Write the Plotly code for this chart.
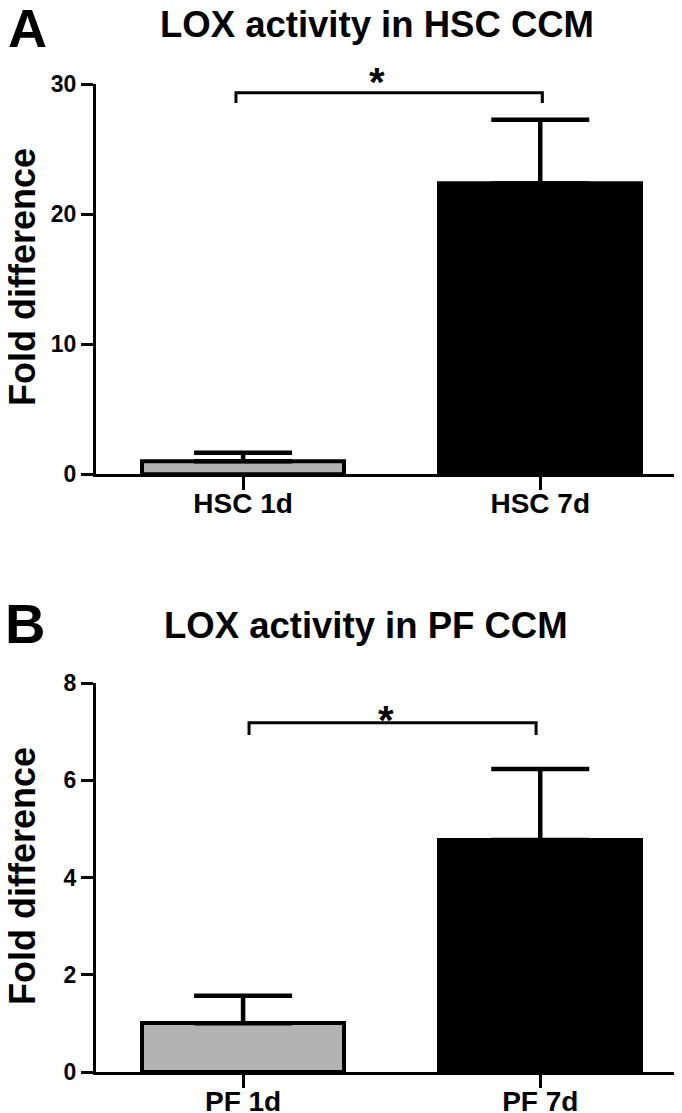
import plotly.graph_objects as go

# ---- data ----
hsc_categories = ["HSC 1d", "HSC 7d"]
hsc_means = [1.0, 22.36]
hsc_sem = [0.66, 4.92]

pf_categories = ["PF 1d", "PF 7d"]
pf_means = [1.0, 4.77]
pf_sem = [0.57, 1.46]

bar_colors = ["#b3b3b3", "#000000"]

hsc_ticks = [0, 10, 20, 30]
pf_ticks = [0, 2, 4, 6, 8]

# significance brackets: [x_left, x_right, y_line, y_tick_end]
hsc_bracket = [-0.024, 1.007, 29.35, 28.56]
pf_bracket = [0.02, 0.986, 7.18, 6.93]

FONT = "Liberation Sans, Arial, Helvetica, sans-serif"

# page body has an 8px default margin: lay out in page pixels, shifted by OFF
OFF = 8
W = 682 - OFF
H = 1113 - OFF


def px(x):
    return (x - OFF) / W


def py(y):
    return 1 - (y - OFF) / H


fig = go.Figure()


def add_panel(cats, means, sem, xa, ya):
    fig.add_trace(go.Bar(
        x=list(range(len(cats))), y=means,
        marker=dict(color=bar_colors, line=dict(color="black", width=4)),
        width=0.68,
        error_y=dict(type="data", symmetric=False, array=sem,
                     arrayminus=[0] * len(sem), color="black",
                     thickness=4.5, width=49),
        xaxis=xa, yaxis=ya, showlegend=False, cliponaxis=False,
    ))


add_panel(hsc_categories, hsc_means, hsc_sem, "x", "y")
add_panel(pf_categories, pf_means, pf_sem, "x2", "y2")

xdom = [px(96), 1.0]
ydomA = [py(474.3), py(84.3)]
ydomB = [py(1072), py(683)]

xcommon = dict(range=[-0.495, 1.477], showline=True, linecolor="black",
               linewidth=3, ticks="outside", ticklen=13, tickwidth=3,
               tickcolor="black", showgrid=False, zeroline=False,
               tickfont=dict(family=FONT, size=28, color="black", weight="bold"),
               tickmode="array", tickvals=[0, 1], fixedrange=True,
               automargin=False, ticklabelstandoff=-11)
ycommon = dict(showline=True, linecolor="black", linewidth=3,
               ticks="outside", ticklen=12, tickwidth=3, tickcolor="black",
               showgrid=False, zeroline=False,
               tickfont=dict(family=FONT, size=23, color="black", weight="bold"),
               tickmode="array", fixedrange=True, automargin=False)

fig.update_layout(
    width=W, height=H,
    margin=dict(l=0, r=0, t=0, b=0, autoexpand=False),
    paper_bgcolor="white", plot_bgcolor="white",
    xaxis=dict(domain=xdom, anchor="y", ticktext=hsc_categories, **xcommon),
    yaxis=dict(domain=ydomA, anchor="x", range=[0, 30], tickvals=hsc_ticks, **ycommon),
    xaxis2=dict(domain=xdom, anchor="y2", ticktext=pf_categories, **xcommon),
    yaxis2=dict(domain=ydomB, anchor="x2", range=[0, 8], tickvals=pf_ticks, **ycommon),
    bargap=0,
)

# brackets
for br, xr, yr in [(hsc_bracket, "x", "y"), (pf_bracket, "x2", "y2")]:
    xl, xrt, yl, ye = br
    fig.add_shape(type="path",
                  path=f"M {xl},{ye} L {xl},{yl} L {xrt},{yl} L {xrt},{ye}",
                  xref=xr, yref=yr, line=dict(color="black", width=3))

# significance stars (page positions)
for sx, sy in [(377, 82), (386, 720)]:
    fig.add_annotation(x=px(sx), y=py(sy), xref="paper", yref="paper",
                       text="<b>*</b>", showarrow=False, yanchor="middle",
                       xanchor="center",
                       font=dict(family=FONT, size=40, color="black"))

# panel titles & letters
fig.add_annotation(x=px(376.5), y=py(25), xref="paper", yref="paper",
                   text="<b>LOX activity in HSC CCM</b>", showarrow=False,
                   xanchor="center", yanchor="middle",
                   font=dict(family=FONT, size=36.5, color="black"))
fig.add_annotation(x=px(366), y=py(625), xref="paper", yref="paper",
                   text="<b>LOX activity in PF CCM</b>", showarrow=False,
                   xanchor="center", yanchor="middle",
                   font=dict(family=FONT, size=36.5, color="black"))
fig.add_annotation(x=px(27), y=py(28), xref="paper", yref="paper",
                   text="<b>A</b>", showarrow=False, xanchor="center",
                   yanchor="middle",
                   font=dict(family=FONT, size=54, color="black"))
fig.add_annotation(x=px(25), y=py(623), xref="paper", yref="paper",
                   text="<b>B</b>", showarrow=False, xanchor="center",
                   yanchor="middle",
                   font=dict(family=FONT, size=56, color="black"))

# y axis titles
for yc in [277, 876]:
    fig.add_annotation(x=px(22), y=py(yc), xref="paper", yref="paper",
                       text="<b>Fold difference</b>", showarrow=False,
                       textangle=-90, xanchor="center", yanchor="middle",
                       font=dict(family=FONT, size=36, color="black"))

fig.write_html("out.html")
